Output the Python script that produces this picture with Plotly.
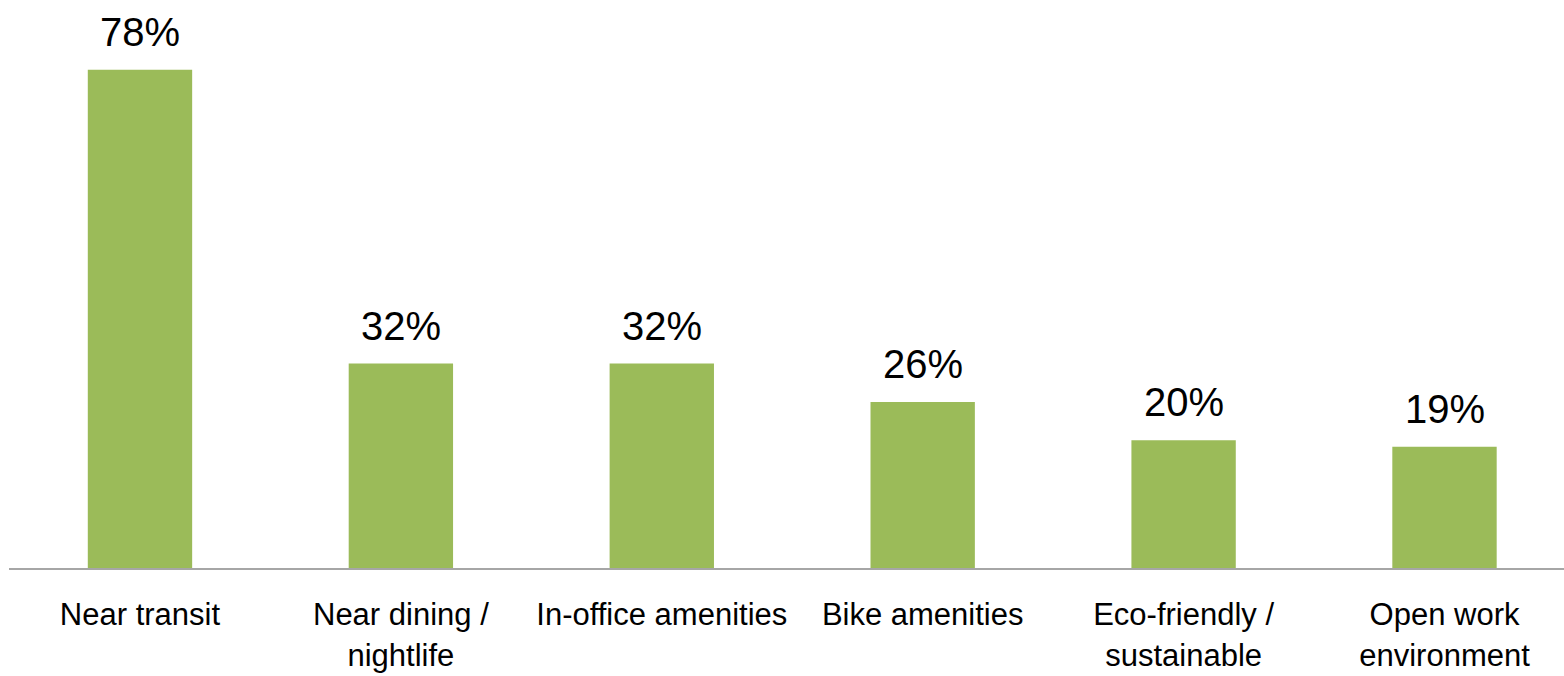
import plotly.graph_objects as go

# Share of respondents citing each workplace feature
categories = [
    "Near transit",
    "Near dining /<br>nightlife",
    "In-office amenities",
    "Bike amenities",
    "Eco-friendly /<br>sustainable",
    "Open work<br>environment",
]
values = [78, 32, 32, 26, 20, 19]
value_labels = [f"{v}%" for v in values]

BAR_COLOR = "#9BBB59"
FONT = "Liberation Sans, Arial, Helvetica, sans-serif"

fig = go.Figure(
    go.Bar(
        x=list(range(len(categories))),
        y=values,
        width=0.4,
        marker=dict(color=BAR_COLOR, line=dict(width=0)),
        hoverinfo="skip",
    )
)

# Percentage labels above each bar
for i, (v, lab) in enumerate(zip(values, value_labels)):
    fig.add_annotation(
        x=i, y=v, text=lab, showarrow=False,
        xanchor="center", yanchor="bottom", yshift=14,
        font=dict(family=FONT, size=40, color="#000000"),
    )

fig.update_layout(
    width=1564, height=676,
    margin=dict(l=9, r=0, t=57, b=108),
    paper_bgcolor="white", plot_bgcolor="white",
    showlegend=False,
    xaxis=dict(
        range=[-0.502, 5.458],
        tickmode="array",
        tickvals=list(range(len(categories))),
        ticktext=categories,
        showgrid=False, zeroline=False,
        showline=True, linecolor="#A6A6A6", linewidth=2,
        ticks="", ticklen=0,
        ticklabelstandoff=18,
        tickfont=dict(family=FONT, size=31, color="#000000"),
        fixedrange=True,
    ),
    yaxis=dict(
        range=[0, 80],
        visible=False,
        showgrid=False, zeroline=False,
        fixedrange=True,
    ),
)

fig.write_html("out.html")
